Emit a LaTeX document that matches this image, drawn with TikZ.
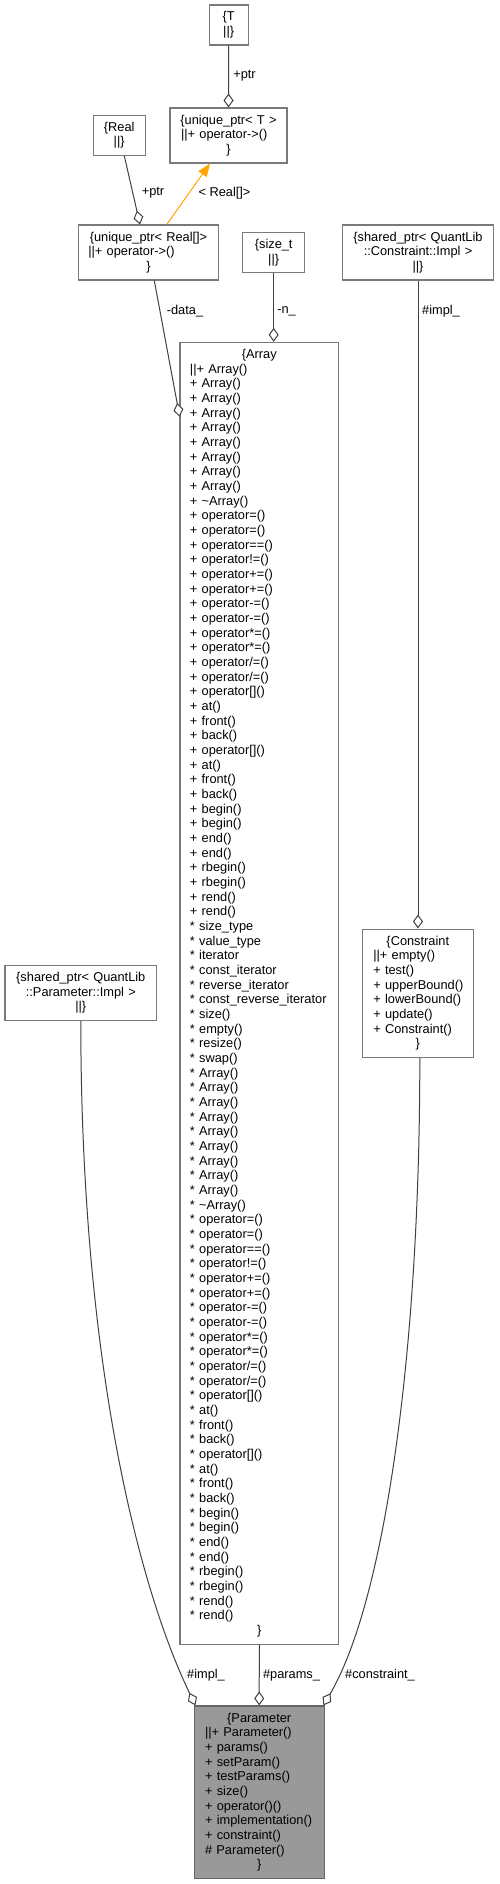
\documentclass[tikz,border=0pt]{standalone}
\usepackage{fontspec}
\setmainfont{Liberation Sans}
\usetikzlibrary{arrows.meta,calc}
\definecolor{boxborder}{HTML}{7A7A7A}
\definecolor{edgecol}{HTML}{404040}
\definecolor{paramfill}{HTML}{999999}
\definecolor{paramborder}{HTML}{666666}
\definecolor{instorange}{HTML}{FFA500}
\newcommand{\dfont}{\fontsize{12.8}{14.67}\selectfont}
\newcommand{\ctr}[1]{\hspace*{-\leftskip}\hfill#1\hfill\null}
\setlength{\parindent}{0pt}
\tikzset{
  cls/.style={draw=boxborder, line width=1.1pt, fill=white, inner ysep=0pt, font=\dfont},
  clsleft/.style n args={3}{cls, align=left, minimum width=#1, minimum height=#2, inner xsep=0pt, text width=#1,
    execute at begin node={\leftskip=#3\relax\hyphenpenalty=10000\exhyphenpenalty=10000}},
  clscenter/.style n args={2}{cls, align=center, minimum width=#1, minimum height=#2, inner xsep=0pt, text width=#1},
  conn/.style={draw=edgecol, line width=1pt},
  agg/.style={conn, -{Diamond[length=14pt, width=10pt, fill=white]}},
  inst/.style={draw=instorange, line width=1pt, -{Triangle[length=13pt, width=10pt]}},
  lbl/.style={font=\dfont, inner sep=0pt}
}
\begin{document}
\begin{tikzpicture}[x=1pt,y=-1pt]
\useasboundingbox (0,0) rectangle (499,1884);

% class nodes
\node[clscenter={39.3pt}{40pt}] (T) at (228.7,25) {\{T\\||\}};
\node[clsleft={117pt}{55pt}{11pt}] (uT) at (228.5,135.5)
  {\ctr{\{unique\_ptr< T >}\\||+ operator->()\\\ctr{\}}};
\node[clscenter={52.3pt}{40pt}] (Real) at (119.2,135.3) {\{Real\\||\}};
\node[clsleft={140.4pt}{55pt}{10pt}] (uR) at (148.5,252.5)
  {\ctr{\{unique\_ptr< Real[]>}\\||+ operator->()\\\ctr{\}}};
\node[clscenter={61.7pt}{40pt}] (sizet) at (273.7,252.7) {\{size\_t\\||\}};
\node[clscenter={150.6pt}{55pt}] (spC) at (418,252.5)
  {\{shared\_ptr< QuantLib\\::Constraint::Impl >\\||\}};
\node[clscenter={151.7pt}{55pt}] (spP) at (80.8,993)
  {\{shared\_ptr< QuantLib\\::Parameter::Impl >\\||\}};
\node[clsleft={111pt}{128.3pt}{11pt}] (Constraint) at (417.8,993.2)
  {\ctr{\{Constraint}\\
   ||+ empty()\\
   + test()\\
   + upperBound()\\
   + lowerBound()\\
   + update()\\
   + Constraint()\\
   \ctr{\}}};
\node[clsleft={158.7pt}{1301.7pt}{10pt}] (Array) at (259.3,993.2)
  {\ctr{\{Array}\\
   ||+ Array()\\
   + Array()\\
   + Array()\\
   + Array()\\
   + Array()\\
   + Array()\\
   + Array()\\
   + Array()\\
   + Array()\\
   + \textasciitilde Array()\\
   + operator=()\\
   + operator=()\\
   + operator==()\\
   + operator!=()\\
   + operator+=()\\
   + operator+=()\\
   + operator-=()\\
   + operator-=()\\
   + operator*=()\\
   + operator*=()\\
   + operator/=()\\
   + operator/=()\\
   + operator[]()\\
   + at()\\
   + front()\\
   + back()\\
   + operator[]()\\
   + at()\\
   + front()\\
   + back()\\
   + begin()\\
   + begin()\\
   + end()\\
   + end()\\
   + rbegin()\\
   + rbegin()\\
   + rend()\\
   + rend()\\
   {*} size\_type\\
   {*} value\_type\\
   {*} iterator\\
   {*} const\_iterator\\
   {*} reverse\_iterator\\
   {*} const\_reverse\_iterator\\
   {*} size()\\
   {*} empty()\\
   {*} resize()\\
   {*} swap()\\
   {*} Array()\\
   {*} Array()\\
   {*} Array()\\
   {*} Array()\\
   {*} Array()\\
   {*} Array()\\
   {*} Array()\\
   {*} Array()\\
   {*} Array()\\
   {*} \textasciitilde Array()\\
   {*} operator=()\\
   {*} operator=()\\
   {*} operator==()\\
   {*} operator!=()\\
   {*} operator+=()\\
   {*} operator+=()\\
   {*} operator-=()\\
   {*} operator-=()\\
   {*} operator*=()\\
   {*} operator*=()\\
   {*} operator/=()\\
   {*} operator/=()\\
   {*} operator[]()\\
   {*} at()\\
   {*} front()\\
   {*} back()\\
   {*} operator[]()\\
   {*} at()\\
   {*} front()\\
   {*} back()\\
   {*} begin()\\
   {*} begin()\\
   {*} end()\\
   {*} end()\\
   {*} rbegin()\\
   {*} rbegin()\\
   {*} rend()\\
   {*} rend()\\
   \ctr{\}}};
\node[clsleft={130.3pt}{172.7pt}{11pt}, fill=paramfill, draw=paramborder] (Param) at (259.2,1792.3)
  {\ctr{\{Parameter}\\
   ||+ Parameter()\\
   + params()\\
   + setParam()\\
   + testParams()\\
   + size()\\
   + operator()()\\
   + implementation()\\
   + constraint()\\
   \# Parameter()\\
   \ctr{\}}};

% connectors
\draw[agg] (T.south) -- (uT.north);
\node[lbl] (lptrT) at (244.5,76) {+ptr};

\draw[agg] ([xshift=5.1pt]Real.south) -- ([xshift=-8.5pt]uR.north);
\node[lbl] (lptrR) at (153,193) {+ptr};

\draw[inst] ([xshift=18.2pt]uR.north) -- ([xshift=-18.5pt]uT.south);
\node[lbl] (lreal) at (224.5,193) {< Real[]>};

\coordinate (dataend) at ($(Array.north west)+(0.3,75)$);
\draw[agg] ([xshift=5.8pt]uR.south) -- (dataend);
\node[lbl] (ldata) at (185,311) {-data\_};

\draw[agg] (sizet.south) -- (sizet.south |- Array.north);
\node[lbl] (ln) at (286.5,311) {-n\_};

\draw[agg] (spC.south) -- (spC.south |- Constraint.north);
\node[lbl] (limplC) at (441,311) {\#impl\_};

\coordinate (pimplend) at ($(Param.north west)+(2,0)$);
\draw[agg] (spP.south) .. controls (80.8,1350) and (135,1580) .. (pimplend);
\node[lbl] (limplP) at (206,1675) {\#impl\_};

\draw[agg] (Array.south) -- (Param.north);
\node[lbl] (lparams) at (291.5,1675) {\#params\_};

\coordinate (constrstart) at ($(Constraint.south)+(2,0)$);
\coordinate (constrend) at ($(Param.north east)+(-1.5,0)$);
\draw[agg] (constrstart) .. controls (420,1350) and (385,1600) .. (constrend);
\node[lbl] (lconstr) at (380,1675) {\#constraint\_};
\end{tikzpicture}
\end{document}
